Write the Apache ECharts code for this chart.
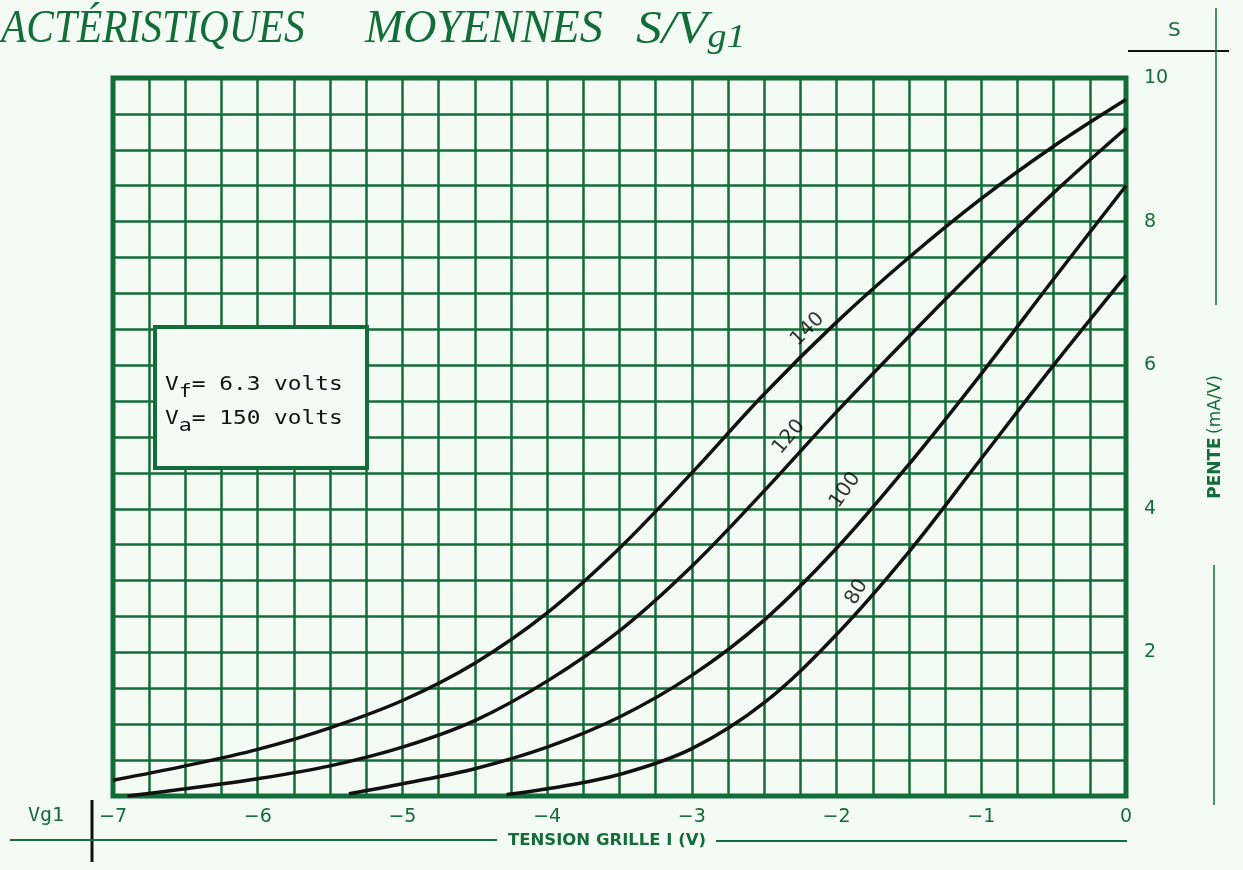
<!DOCTYPE html>
<html>
<head>
<meta charset="utf-8">
<script src="https://cdn.jsdelivr.net/npm/echarts@6/dist/echarts.min.js"></script>
<style>
  html, body { margin: 0; padding: 0; background: #f4fbf4; }
  #main { width: 1243px; height: 870px; }
</style>
</head>
<body>
<div id="main"></div>
<script>
// grid voltage Vg1 (V) and slope S (mA/V)
const curve140 = [[-7, 0.22], [-6.5, 0.42], [-6, 0.65], [-5.5, 0.95], [-5, 1.33], [-4.5, 1.85], [-4, 2.55], [-3.5, 3.45], [-3, 4.5], [-2.5, 5.6], [-2, 6.6], [-1.5, 7.5], [-1, 8.32], [-0.5, 9.05], [0, 9.7]];
const curve120 = [[-6.9, 0.0], [-6.5, 0.1], [-6, 0.24], [-5.5, 0.42], [-5, 0.68], [-4.5, 1.05], [-4, 1.6], [-3.5, 2.3], [-3, 3.2], [-2.5, 4.25], [-2, 5.35], [-1.5, 6.4], [-1, 7.42], [-0.5, 8.4], [0, 9.3]];
const curve100 = [[-5.37, 0.03], [-5, 0.17], [-4.5, 0.38], [-4, 0.68], [-3.5, 1.1], [-3, 1.68], [-2.5, 2.45], [-2, 3.45], [-1.5, 4.62], [-1, 5.88], [-0.5, 7.2], [0, 8.5]];
const curve80 = [[-4.28, 0.02], [-4, 0.1], [-3.5, 0.3], [-3, 0.66], [-2.5, 1.3], [-2, 2.25], [-1.5, 3.4], [-1, 4.7], [-0.5, 6.0], [0, 7.25]];

// curve names (Vg2) and where they are written
const curveNames = ['140', '120', '100', '80'];
const nameSpots = [[-2.2, 6.5], [-2.33, 5.0], [-1.94, 4.26], [-1.86, 2.84]];
const nameAngles = [45, 50, 55, 60];

const xTicks = [-7, -6, -5, -4, -3, -2, -1, 0];
const yTicks = [2, 4, 6, 8, 10];

const green = '#136d38';

const chart = echarts.init(document.getElementById('main'));

function curve(name, data) {
  return {
    name: name,
    type: 'line',
    data: data,
    smooth: 0.35,
    symbol: 'none',
    lineStyle: { color: '#111', width: 3.5 },
    z: 5
  };
}

const titleFont = { fontFamily: 'Liberation Serif', fontStyle: 'italic', fontSize: 46, fill: green };

const option = {
  backgroundColor: '#f4fbf4',
  animation: false,
  grid: {
    left: 113, top: 78, right: 117, bottom: 74,
    show: true,
    borderColor: green,
    borderWidth: 5,
    backgroundColor: 'transparent'
  },
  xAxis: {
    type: 'value',
    min: -7, max: 0, interval: 0.25,
    axisLine: { show: false },
    axisTick: { show: false },
    splitLine: { lineStyle: { color: green, width: 2.5 } },
    axisLabel: {
      interval: 0,
      color: green,
      fontSize: 19,
      fontFamily: 'DejaVu Sans',
      margin: 12,
      formatter: function (v) {
        if (xTicks.indexOf(v) < 0) return '';
        return v < 0 ? '\u2212' + Math.abs(v) : String(v);
      }
    }
  },
  yAxis: {
    type: 'value',
    position: 'right',
    min: 0, max: 10, interval: 0.5,
    axisLine: { show: false },
    axisTick: { show: false },
    splitLine: { lineStyle: { color: green, width: 2.5 } },
    axisLabel: {
      color: green,
      fontSize: 19,
      fontFamily: 'DejaVu Sans',
      margin: 18,
      formatter: function (v) {
        return yTicks.indexOf(v) >= 0 ? String(v) : '';
      }
    }
  },
  series: [
    curve('140', curve140),
    curve('120', curve120),
    curve('100', curve100),
    curve('80', curve80),
    {
      name: 'labels',
      type: 'scatter',
      symbolSize: 0,
      z: 6,
      data: nameSpots.map(function (p, i) {
        return {
          value: p,
          label: {
            show: true,
            formatter: curveNames[i],
            rotate: nameAngles[i],
            color: '#000',
            fontSize: 20,
            fontFamily: 'DejaVu Sans'
          }
        };
      })
    }
  ],
  graphic: [
    // title, word by word
    {
      type: 'text', x: 1, y: 7, scaleX: 0.9,
      style: Object.assign({ text: 'ACTÉRISTIQUES' }, titleFont)
    },
    {
      type: 'text', x: 365, y: 7,
      style: Object.assign({ text: 'MOYENNES' }, titleFont)
    },
    {
      type: 'text', x: 636, y: 7, scaleX: 1.12,
      style: {
        text: '{t|S/V}{s|g1}',
        rich: {
          t: titleFont,
          s: { fontFamily: 'Liberation Serif', fontStyle: 'italic', fontSize: 34, fill: green, padding: [14, 0, 0, 0] }
        }
      }
    },
    // condition box
    {
      type: 'rect', z: 10,
      shape: { x: 155, y: 327, width: 212, height: 141 },
      style: { fill: '#f4fbf4', stroke: green, lineWidth: 4 }
    },
    {
      type: 'text', z: 11, x: 165, y: 368, scaleX: 1.2,
      style: {
        text: '{v|V}{sub|f}{v|= 6.3 volts}\n{v|V}{sub|a}{v|= 150 volts}',
        rich: {
          v: { fontFamily: 'DejaVu Sans Mono', fontSize: 19, fill: '#111', lineHeight: 34 },
          sub: { fontFamily: 'DejaVu Sans Mono', fontSize: 18, fill: '#111', padding: [14, 0, 0, 0], lineHeight: 34 }
        }
      }
    },
    // right-hand S scale decoration
    {
      type: 'text', left: 1168, top: 21,
      style: { text: 'S', fontFamily: 'DejaVu Sans', fontSize: 20, fill: green }
    },
    {
      type: 'line', shape: { x1: 1128, y1: 51, x2: 1229, y2: 51 },
      style: { stroke: '#111', lineWidth: 2 }
    },
    {
      type: 'line', shape: { x1: 1216, y1: 8, x2: 1216, y2: 305 },
      style: { stroke: green, lineWidth: 1.5 }
    },
    {
      type: 'line', shape: { x1: 1214, y1: 565, x2: 1214, y2: 805 },
      style: { stroke: green, lineWidth: 1.5 }
    },
    {
      type: 'text', x: 1216, y: 437, rotation: Math.PI / 2,
      style: {
        text: '{b|PENTE} {n|(mA/V)}',
        align: 'center', verticalAlign: 'middle',
        rich: {
          b: { fontFamily: 'DejaVu Sans', fontWeight: 'bold', fontSize: 17, fill: green },
          n: { fontFamily: 'DejaVu Sans', fontSize: 17, fill: green }
        }
      }
    },
    // bottom axis title line
    {
      type: 'text', left: 28, top: 806,
      style: { text: 'Vg1', fontFamily: 'DejaVu Sans Mono', fontSize: 20, fill: green }
    },
    {
      type: 'line', shape: { x1: 92, y1: 800, x2: 92, y2: 862 },
      style: { stroke: '#111', lineWidth: 3 }
    },
    {
      type: 'line', shape: { x1: 10, y1: 840, x2: 497, y2: 840 },
      style: { stroke: green, lineWidth: 2 }
    },
    {
      type: 'text', x: 607, y: 841,
      style: {
        text: 'TENSION GRILLE I (V)',
        align: 'center', verticalAlign: 'middle',
        fontFamily: 'DejaVu Sans', fontWeight: 'bold', fontSize: 16.5, fill: green
      }
    },
    {
      type: 'line', shape: { x1: 716, y1: 841, x2: 1127, y2: 841 },
      style: { stroke: green, lineWidth: 2 }
    }
  ]
};

chart.setOption(option);
</script>
</body>
</html>
